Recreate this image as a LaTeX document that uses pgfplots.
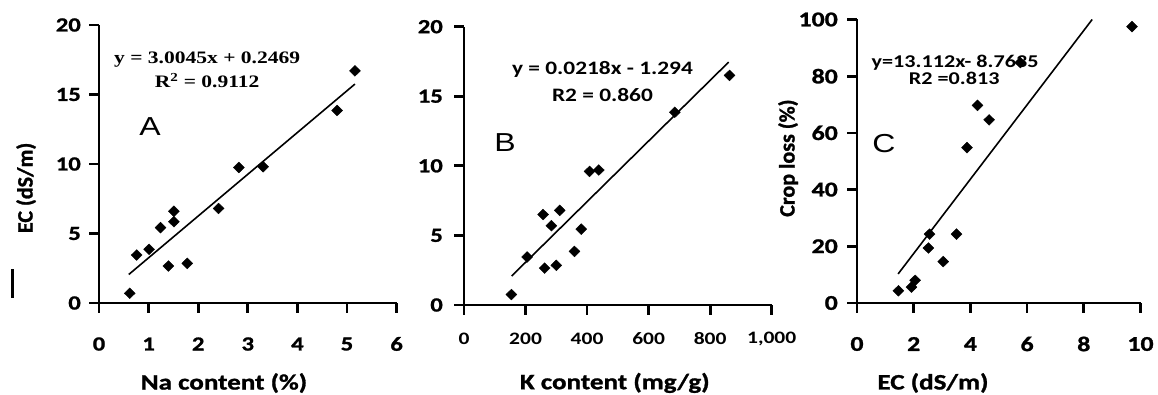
\documentclass[border=0pt]{standalone}
\usepackage{pgfplots}
\pgfplotsset{compat=1.18}
\usepackage{fontspec}
\setmainfont{Carlito}
\newfontfamily\cs{Carlito}[FakeStretch=1.23, BoldFeatures={FakeBold=1.2}]
\newfontfamily\cse{Carlito}[FakeStretch=1.23]
\newfontfamily\csr{Carlito}[BoldFeatures={FakeBold=1.2}]
\newfontfamily\tms{Liberation Serif}[FakeStretch=1.23]
\newfontfamily\arl{Liberation Sans}[FakeStretch=1.23]
\newcommand\fs[1]{\fontsize{#1}{#1}\selectfont}

\pgfplotsset{
  panel/.style={
    scale only axis,
    axis x line=bottom, axis y line=left,
    axis line style={-, line width=2.7pt, black},
    tick align=outside, major tick length=10pt,
    tick style={line width=2.7pt, black},
    clip=false,
    xticklabel style={anchor=center, inner sep=0pt},
    yticklabel style={anchor=east, inner sep=0pt},
  },
  pts/.style={only marks, mark=diamond*, mark size=5.4pt,
    mark options={xscale=1.35, fill=black, draw=black, line width=0.4pt}},
  fit/.style={black, line width=1.6pt, no marks},
}

\begin{document}
\begin{tikzpicture}[x=1pt,y=1pt]
\useasboundingbox (0,0) rectangle (1158,395);
\draw[line width=3pt] (12,97) -- (12,126);

% ---------- Panel A ----------
\begin{axis}[panel,
  at={(99pt,92pt)}, anchor=south west,
  width=297.6pt, height=278pt,
  xmin=0, xmax=6, ymin=0, ymax=20,
  xtick={0,1,2,3,4,5,6}, xticklabels={0,1,2,3,4,5,6},
  ytick={0,5,10,15,20}, yticklabels={0,5,10,15,20},
  xticklabel style={font=\cs\bfseries\fs{20}, yshift=-31pt},
  yticklabel style={font=\cs\bfseries\fs{20}, xshift=-8pt},
  xlabel={Na content (\%)}, xlabel style={font=\cs\bfseries\fs{22}, at={(axis description cs:0.42,-0.288)}, anchor=center},
  ylabel={EC (dS/m)}, ylabel style={font=\csr\bfseries\fs{22}, at={(axis description cs:-0.245,0.414)}, anchor=center, rotate=0},
]
\addplot[pts] table {
x y
0.62 0.70
0.76 3.45
1.01 3.86
1.24 5.42
1.40 2.66
1.51 6.60
1.51 5.85
1.78 2.85
2.41 6.80
2.82 9.75
3.31 9.80
4.80 13.85
5.16 16.70
};
\addplot[fit] coordinates {(0.6,2.05) (5.16,15.75)};
\node[font=\tms\bfseries\fs{17.5}, inner sep=0pt] at (axis cs:2.18,17.5) {y = 3.0045x + 0.2469};
\node[font=\tms\bfseries\fs{17.5}, inner sep=0pt] at (axis cs:2.18,16.0) {R\textsuperscript{2} = 0.9112};
\node[font=\arl\fs{26}] at (axis cs:1.03,12.66) {A};
\end{axis}

% ---------- Panel B ----------
\begin{axis}[panel,
  at={(464pt,90pt)}, anchor=south west,
  width=307.7pt, height=278.3pt,
  xmin=0, xmax=1000, ymin=0, ymax=20,
  xtick={0,200,400,600,800,1000}, xticklabels={0,200,400,600,800,{1,000}},
  ytick={0,5,10,15,20}, yticklabels={0,5,10,15,20},
  xticklabel style={font=\cse\bfseries\fs{17.5}, yshift=-24pt},
  yticklabel style={font=\cs\bfseries\fs{20}, xshift=-11pt},
  xlabel={K content (mg/g)}, xlabel style={font=\cs\bfseries\fs{22}, at={(axis description cs:0.49,-0.28)}, anchor=center},
]
\addplot[pts] table {
x y
154 0.75
205 3.45
262 2.65
257 6.50
284 5.70
311 6.80
300 2.85
359 3.85
381 5.45
408 9.60
438 9.70
685 13.85
863 16.50
};
\addplot[fit] coordinates {(155,2.085) (860,17.454)};
\node[font=\cse\bfseries\fs{19}, inner sep=0pt] at (axis cs:450,16.9) {y = 0.0218x - 1.294};
\node[font=\cse\bfseries\fs{19}, inner sep=0pt] at (axis cs:450,15.1) {R2 = 0.860};
\node[font=\arl\fs{26}] at (axis cs:133,11.65) {B};
\end{axis}

% ---------- Panel C ----------
\begin{axis}[panel,
  at={(857pt,92pt)}, anchor=south west,
  width=283.5pt, height=283.5pt,
  xmin=0, xmax=10, ymin=0, ymax=100,
  xtick={0,2,4,6,8,10}, xticklabels={0,2,4,6,8,10},
  ytick={0,20,40,60,80,100}, yticklabels={0,20,40,60,80,100},
  xticklabel style={font=\cs\bfseries\fs{21}, yshift=-31pt},
  yticklabel style={font=\cs\bfseries\fs{21}, xshift=-9pt},
  xlabel={EC (dS/m)}, xlabel style={font=\cs\bfseries\fs{22}, at={(axis description cs:0.268,-0.282)}, anchor=center},
  ylabel={Crop loss (\%)}, ylabel style={font=\csr\bfseries\fs{22}, at={(axis description cs:-0.243,0.511)}, anchor=center, rotate=0},
]
\addplot[pts] table {
x y
1.46 4.3
1.92 5.6
2.05 8.0
2.52 19.4
2.56 24.3
3.04 14.6
3.51 24.3
3.88 54.8
4.25 69.7
4.66 64.6
5.76 84.8
9.70 97.5
};
\addplot[fit] coordinates {(1.45,10.25) (8.295,100)};
\node[font=\cse\bfseries\fs{18}, inner sep=0pt] at (axis cs:3.46,84.8) {y=13.112x- 8.7635};
\node[font=\cse\bfseries\fs{18}, inner sep=0pt] at (axis cs:3.43,79.4) {R2 =0.813};
\node[font=\arl\fs{26}] at (axis cs:0.95,56.4) {C};
\end{axis}
\end{tikzpicture}
\end{document}
